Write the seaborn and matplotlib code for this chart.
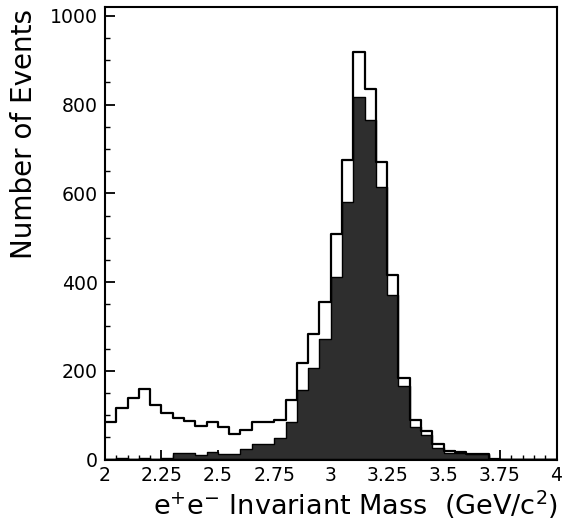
import numpy as np
import pandas as pd
import matplotlib
matplotlib.use("Agg")
import matplotlib.pyplot as plt
import seaborn as sns
from matplotlib.ticker import MultipleLocator, FixedLocator

# Bin centres: 2.00 .. 4.00 GeV in 0.05 steps (40 bins)
bin_centers = [round(2.025 + 0.05 * i, 3) for i in range(40)]

# Open histogram (all candidates)
all_counts = [85, 115, 138, 158, 123, 104, 93, 87, 75, 84,
              74, 57, 67, 85, 85, 90, 134, 218, 283, 354,
              508, 674, 918, 835, 670, 416, 183, 89, 64, 36,
              20, 18, 12, 12, 2, 0, 0, 0, 0, 0]

# Filled histogram (selected events)
sel_counts = [2, 3, 2, 3, 2, 4, 14, 14, 10, 17,
              13, 13, 23, 36, 35, 48, 85, 157, 207, 272,
              412, 581, 817, 765, 615, 371, 166, 74, 55, 25,
              15, 15, 12, 12, 2, 0, 0, 0, 0, 0]

x_ticks = [2, 2.25, 2.5, 2.75, 3, 3.25, 3.5, 3.75, 4]
x_tick_labels = ["2", "2.25", "2.5", "2.75", "3", "3.25", "3.5", "3.75", "4"]
y_ticks = [0, 200, 400, 600, 800, 1000]

df = pd.DataFrame({"mass": bin_centers, "all": all_counts, "sel": sel_counts})

sns.set_theme(style="ticks")
plt.rcParams["font.family"] = ["DejaVu Sans"]
plt.rcParams["text.color"] = "black"
plt.rcParams["axes.labelcolor"] = "black"

fig = plt.figure(figsize=(5.63, 5.23), dpi=100)
ax = fig.add_axes([105 / 563, 1 - 459.5 / 523, 451.5 / 563, 452.5 / 523])

sns.histplot(data=df, x="mass", weights="sel", binwidth=0.05, binrange=(2, 4),
             element="step", fill=True, color="#2e2e2e", alpha=1.0,
             edgecolor="black", linewidth=1.0, ax=ax, zorder=2)
sns.histplot(data=df, x="mass", weights="all", binwidth=0.05, binrange=(2, 4),
             element="step", fill=False, color="black", linewidth=1.6,
             ax=ax, zorder=3)

ax.set_xlim(2, 4)
ax.set_ylim(0, 1020)
ax.xaxis.set_major_locator(FixedLocator(x_ticks))
ax.set_xticklabels(x_tick_labels)
ax.xaxis.set_minor_locator(MultipleLocator(0.05))
ax.yaxis.set_major_locator(FixedLocator(y_ticks))
ax.yaxis.set_minor_locator(MultipleLocator(50))

ax.tick_params(axis="both", which="major", direction="in", length=7, width=1.3,
               labelsize=13.6, colors="black", top=False, right=False, pad=5)
ax.tick_params(axis="both", which="minor", direction="in", length=3.5, width=1.0,
               colors="black", top=False, right=False)
for s in ax.spines.values():
    s.set_linewidth(1.5)
    s.set_color("black")

ax.set_xlabel(r"$\mathregular{e^{+}e^{-}}$ Invariant Mass  (GeV/c$\mathregular{^{2}}$)",
              fontsize=19.5, color="black")
ax.set_ylabel("Number of Events", fontsize=20, color="black")
ax.yaxis.set_label_coords(-0.148, 0.72)
ax.xaxis.set_label_coords(0.556, -0.064)

fig.savefig("out.png", dpi=100)
